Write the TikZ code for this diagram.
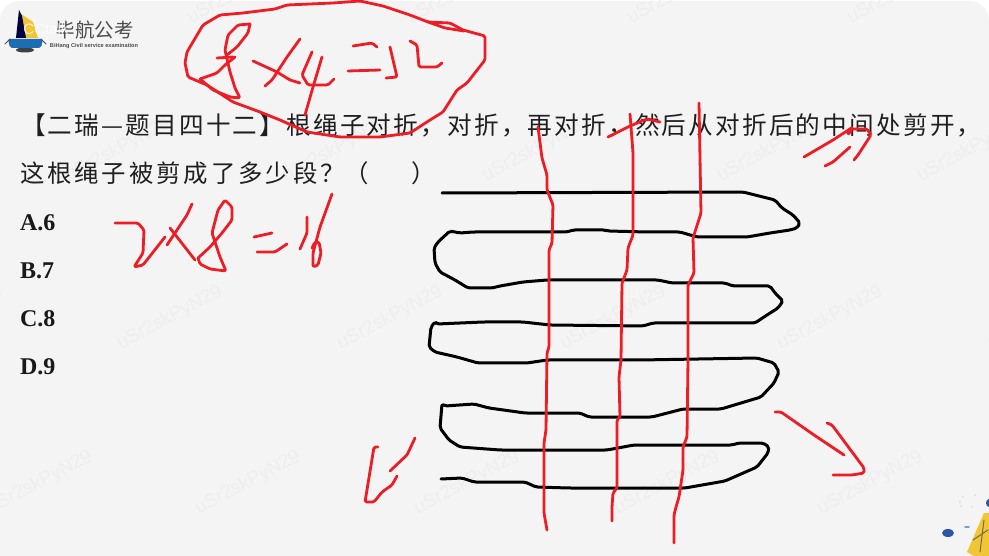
\documentclass[tikz,border=0pt]{standalone}
\usepackage{fontspec}
\setmainfont{Liberation Serif}
\newfontfamily\cjk[LetterSpace=9]{Noto Sans CJK SC}
\newfontfamily\cjkwide[LetterSpace=12]{Noto Sans CJK SC}
\newfontfamily\cjklogo{Noto Sans CJK SC}
\newfontfamily\latinsans{Liberation Sans}
\definecolor{bgpage}{HTML}{F4F4F4}
\definecolor{inkred}{HTML}{EE1C25}
\definecolor{markgray}{HTML}{EEEEEE}
\definecolor{boatblue}{HTML}{1C6DB4}
\definecolor{dotblue}{HTML}{2B56A6}
\definecolor{sailyellow}{HTML}{F2C534}

\begin{document}
\begin{tikzpicture}
        [x=1pt,y=-1pt,line join=round,line cap=round,
         redline/.style={draw=inkred,line width=2.8pt,rounded corners=1.5pt},
         rope/.style={draw=black,line width=3pt,rounded corners=2pt},
         every node/.style={inner sep=0pt,outer sep=0pt},
         question/.style={anchor=west,text=black!88},
         answer/.style={anchor=west,font=\fontsize{24}{24}\selectfont\bfseries,text=black!90},
         watermark/.style={rotate=28,text=markgray,font=\latinsans\fontsize{19}{19}\selectfont}]
        \useasboundingbox (0,0) rectangle (989,556);
        \clip (0,0) rectangle (989,556);
        \fill[white] (0,0) rectangle (989,556);
        \fill[bgpage,rounded corners=20pt] (0,1) rectangle (989,600);

        % watermark rows
        \foreach \wx/\wy [count=\i] in {240/-8,460/-8,680/-8,900/-8,118/150,335/150,535/150,770/150,970/150,
            -50/318,170/318,390/318,613/318,830/318,1040/318,40/483,248/483,467/483,667/483,870/483}
        \node[watermark] (wm\i) at (\wx,\wy) {uSr2skPyN29};

        % logo
        \fill[black!75] (25,50) ellipse[x radius=9,y radius=2.5];
        \fill[sailyellow] (21,14) -- (33,22) -- (38,38) -- (21,38) -- cycle;
        \fill[black!75!blue] (19,10) -- (22,16) -- (26,38) -- (16,38) -- cycle;
        \fill[boatblue,rounded corners=2pt] (8,39) -- (43,39) -- (41,48) -- (10,48) -- cycle;
        \draw[black!70,line width=.8pt] (5,44) -- (10,39) (46,44) -- (41,39);
        \node[font=\cjklogo\fontsize{19.5}{20}\selectfont,text=black!70] (logotitle) at (95,30) {毕航公考};
        \node[font=\latinsans\bfseries\fontsize{5.6}{6}\selectfont,text=black!70] (logosub) at (94,46) {BiHang Civil service examination};
        \node[font=\latinsans\fontsize{15}{15}\selectfont,text=white,opacity=.8] (ccname) at (46,29) {CCtalk};

        % corner decoration
        \fill[dotblue] (948,533) ellipse[x radius=6,y radius=4];
        \fill[dotblue] (989,503) ellipse[x radius=3,y radius=4];
        \fill[dotblue!60] (967,527) ellipse[x radius=3,y radius=1];
        \foreach \dx/\dy in {963/497,975/495,960/502,961/506,972/507}
        \fill[dotblue!45] (\dx,\dy) circle[radius=.7];
        \fill[sailyellow] (984,513) -- (967,552) -- (974,556) -- (989,556) -- (989,513) -- cycle;
        \draw[dotblue!60!black,line width=1pt,opacity=.6] (984,520) -- (980,552) (973,540) -- (988,530);

        % question text
        \node[question,font=\cjk\fontsize{24.6}{25}\selectfont] (qline1) at (21,125)
            {【二瑞—题目四十二】根绳子对折，对折，再对折，然后从对折后的中间处剪开，};
        \node[question,font=\cjkwide\fontsize{24.4}{25}\selectfont] (qline2) at (20,173)
            {这根绳子被剪成了多少段？\hspace{0pt}（\hspace{42pt}）};
        \foreach \opt/\ypos in {A.6/223,B.7/271,C.8/319,D.9/367}
        \node[answer] (opt\ypos) at (20,\ypos) {\opt};

        % folded rope
        \draw[rope] (442,193) -- (743,192) -- (775,200) -- (782,208) -- (793,215) -- (800,223) -- (797,228) -- (790,230)
            -- (770,233) -- (747,237) -- (697,237) -- (680,232) -- (647,232) -- (608,231) -- (605,230) -- (573,230)
            -- (567,232) -- (473,232) -- (460,233) -- (450,231) -- (438,242) -- (434,248) -- (435,263) -- (440,272)
            -- (455,280) -- (468,288) -- (492,288) -- (500,286) -- (523,282) -- (547,280) -- (658,280) -- (672,283)
            -- (725,283) -- (733,286) -- (770,286) -- (775,293) -- (783,301) -- (778,308) -- (767,315) -- (755,323)
            -- (653,323) -- (643,326) -- (550,325) -- (523,322) -- (483,322) -- (437,324) -- (435,322) -- (431,327)
            -- (429,347) -- (435,352) -- (457,357) -- (478,363) -- (527,363) -- (547,360) -- (640,360) -- (757,358)
            -- (774,363) -- (779,372) -- (774,383) -- (761,397) -- (721,409) -- (683,409) -- (652,417) -- (589,417)
            -- (580,413) -- (525,413) -- (489,408) -- (474,404) -- (445,406) -- (442,404) -- (440,428) -- (449,440)
            -- (460,447) -- (500,450) -- (607,450) -- (634,445) -- (732,445) -- (739,443) -- (763,443) -- (769,447)
            -- (768,453) -- (757,467) -- (725,481) -- (685,488) -- (569,488) -- (536,487) -- (525,482) -- (474,482)
            -- (462,478) -- (441,479);

        % cuts
        \draw[redline] (538,127) -- (542,158) -- (547,175) -- (547,190) -- (553,205) -- (552,243) -- (549,250) -- (549,347)
            -- (547,353) -- (546,430) -- (544,443) -- (544,513) -- (547,530);
        \draw[redline] (630,114) -- (633,153) -- (633,235) -- (628,248) -- (627,270) -- (622,283) -- (621,360) -- (619,377)
            -- (620,417) -- (617,420) -- (617,488) -- (613,493) -- (612,507) -- (612,521);
        \draw[redline] (699,103) -- (701,213) -- (693,238) -- (694,273) -- (688,285) -- (688,360) -- (687,437) -- (683,447)
            -- (683,470) -- (679,497) -- (676,507) -- (674,515) -- (674,543);
        \draw[redline] (608,137) -- (630,126) -- (647,119) -- (660,122);

        % arrows
        \draw[redline] (804,157) -- (833,140) -- (853,127) -- (848,135) -- (848,129) -- (867,129) -- (871,135) -- (858,155) -- (854,160);
        \draw[redline] (825,166) -- (833,162) -- (850,147);
        \draw[redline] (775,412) -- (781,412) -- (814,435) -- (844,455);
        \draw[redline] (827,423) -- (832,425) -- (864,468) -- (864,473) -- (852,475) -- (833,475);
        \draw[redline] (378,447) -- (374,447) -- (365,502) -- (374,502) -- (382,492) -- (392,485) -- (397,476);
        \draw[redline] (415,438) -- (407,455) -- (390,471);

        % top sum
        \draw[redline] (188,77) -- (185,63) -- (187,52) -- (203,25) -- (220,15) -- (243,13) -- (275,9) -- (287,5) -- (333,3)
            -- (360,1) -- (383,6) -- (410,15) -- (428,22) -- (450,23) -- (463,30) -- (485,36) -- (485,60) -- (467,83)
            -- (457,90) -- (443,112) -- (430,120) -- (410,133) -- (380,137) -- (340,137) -- (307,132) -- (280,120)
            -- (260,112) -- (233,102) -- (207,85) -- cycle;
        \draw[redline] (428,22) -- (445,28) -- (464,31);
        \draw[redline] (200,79) -- (217,73) -- (225,65) -- (235,57);
        \draw[redline] (217,58) -- (233,57);
        \draw[redline] (250,24) -- (238,25) -- (228,35) -- (225,50) -- (230,72) -- (235,88) -- (240,98) -- (230,97) -- (213,90) -- (200,79);
        \draw[redline] (250,24) -- (248,33) -- (237,47) -- (227,55);
        \draw[redline] (253,61) -- (277,72) -- (290,80) -- (300,83);
        \draw[redline] (300,39) -- (287,57) -- (272,80) -- (265,86);
        \draw[redline] (312,52) -- (302,75) -- (308,85) -- (328,85) -- (334,79);
        \draw[redline] (322,57) -- (313,87) -- (305,115);
        \draw[redline] (353,46) -- (372,43) -- (377,47);
        \draw[redline] (348,71) -- (380,70);
        \draw[redline] (390,47) -- (397,77) -- (386,78);
        \draw[redline] (410,41) -- (417,45) -- (419,67) -- (437,67) -- (442,63);

        % left sum
        \draw[redline] (115,223) -- (138,223) -- (144,230) -- (143,253) -- (134,267) -- (143,265) -- (165,237);
        \draw[redline] (170,228) -- (195,260);
        \draw[redline] (192,204) -- (187,215) -- (167,245);
        \draw[redline] (198,258) -- (200,264) -- (210,269) -- (226,271) -- (220,257) -- (212,233) -- (218,210) -- (225,200)
            -- (232,207) -- (232,220) -- (222,233) -- (210,247) -- (198,258);
        \draw[redline] (254,237) -- (272,233);
        \draw[redline] (257,252) -- (275,252) -- (287,244);
        \draw[redline] (307,217) -- (307,233) -- (300,249);
        \draw[redline] (332,194) -- (320,227) -- (313,253) -- (313,267) -- (318,265) -- (321,253) -- (319,242) -- (315,242) -- (312,248);
\end{tikzpicture}
\end{document}
